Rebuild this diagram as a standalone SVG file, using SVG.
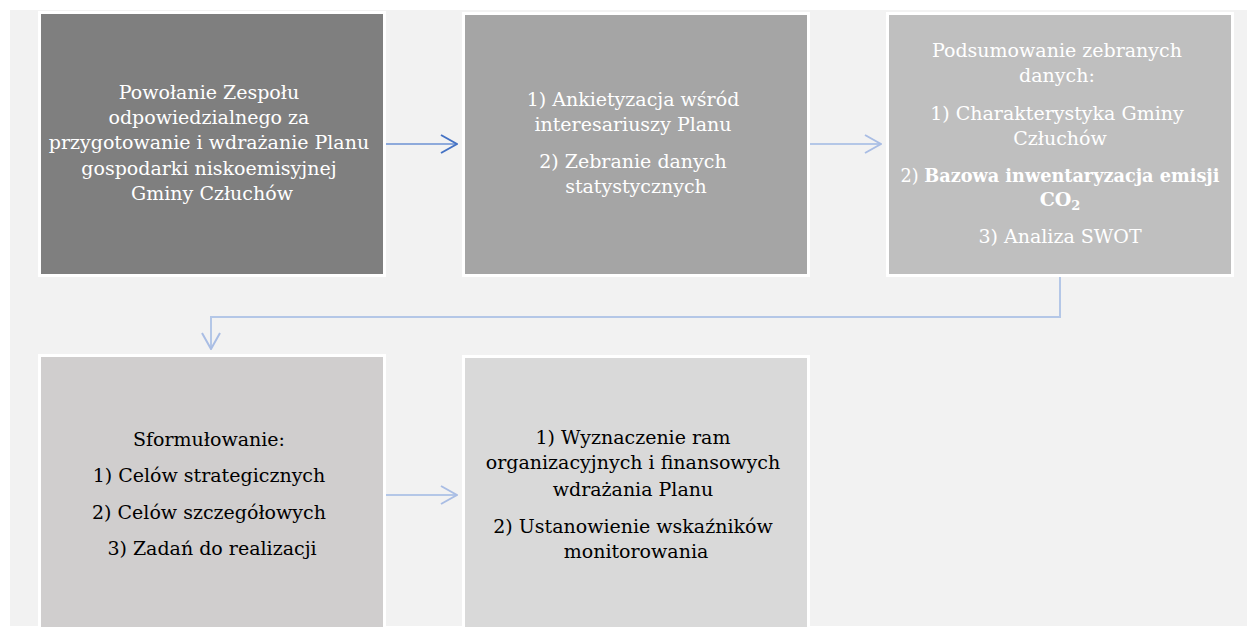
<svg xmlns="http://www.w3.org/2000/svg" width="1247" height="627" viewBox="0 0 1247 627">
<defs>
<style>
.box{stroke:#ffffff;stroke-width:3}
.t{font-family:"DejaVu Serif","Liberation Serif",serif;font-size:19px;text-anchor:middle}
.w{fill:#ffffff}
.k{fill:#000000}
.c{fill:none;stroke-width:2}
</style>
<marker id="ah1" viewBox="0 0 18 20" refX="17" refY="10" markerWidth="18" markerHeight="20" markerUnits="userSpaceOnUse" orient="auto">
<path d="M1,1 L17,10 L1,19" fill="none" stroke="#4472c4" stroke-width="2"/>
</marker>
<marker id="ah2" viewBox="0 0 18 20" refX="17" refY="10" markerWidth="18" markerHeight="20" markerUnits="userSpaceOnUse" orient="auto">
<path d="M1,1 L17,10 L1,19" fill="none" stroke="#a9bde4" stroke-width="2"/>
</marker>
</defs>
<rect x="0" y="0" width="1247" height="627" fill="#ffffff"/>
<rect x="10" y="10" width="1237" height="616" fill="#f2f2f2"/>

<g id="connectors">
<line class="c" x1="386" y1="144" x2="457" y2="144" stroke="#8eaadb" marker-end="url(#ah1)"/>
<line class="c" x1="810" y1="144" x2="881" y2="144" stroke="#b4c7e7" marker-end="url(#ah2)"/>
<path class="c" d="M1060,277 V317 H211 V349" stroke="#b4c7e7" marker-end="url(#ah2)"/>
<line class="c" x1="386" y1="495" x2="457" y2="495" stroke="#b4c7e7" marker-end="url(#ah2)"/>
</g>

<g id="node1">
<rect class="box" x="39.5" y="12.5" width="345" height="263" fill="#7f7f7f"/>
<text class="t w">
<tspan x="212" y="98.5">Powołanie Zespołu</tspan>
<tspan x="212" y="124">odpowiedzialnego za</tspan>
<tspan x="212" y="149">przygotowanie i wdrażanie Planu</tspan>
<tspan x="212" y="174.5">gospodarki niskoemisyjnej</tspan>
<tspan x="212" y="200">Gminy Człuchów</tspan>
</text>
</g>

<g id="node2">
<rect class="box" x="463.5" y="13.5" width="345" height="262" fill="#a5a5a5"/>
<text class="t w">
<tspan x="636" y="106">1) Ankietyzacja wśród</tspan>
<tspan x="636" y="131">interesariuszy Planu</tspan>
<tspan x="636" y="168">2) Zebranie danych</tspan>
<tspan x="636" y="193">statystycznych</tspan>
</text>
</g>

<g id="node3">
<rect class="box" x="887.5" y="13.5" width="345" height="262" fill="#bfbfbf"/>
<text class="t w">
<tspan x="1060" y="57">Podsumowanie zebranych</tspan>
<tspan x="1060" y="82">danych:</tspan>
<tspan x="1060" y="119.5">1) Charakterystyka Gminy</tspan>
<tspan x="1060" y="144.5">Człuchów</tspan>
</text>
<text class="t w" x="1060" y="181.5" textLength="319" lengthAdjust="spacingAndGlyphs">2) <tspan font-weight="bold">Bazowa inwentaryzacja emisji</tspan></text>
<text class="t w" x="1060" y="206" font-weight="bold">CO<tspan font-size="13" dy="4">2</tspan></text>
<text class="t w" x="1060" y="243">3) Analiza SWOT</text>
</g>

<g id="node4">
<rect class="box" x="39.5" y="355.5" width="345" height="290" fill="#d0cece"/>
<text class="t k">
<tspan x="212" y="446">Sformułowanie:</tspan>
<tspan x="212" y="482">1) Celów strategicznych</tspan>
<tspan x="212" y="518.5">2) Celów szczegółowych</tspan>
<tspan x="212" y="555">3) Zadań do realizacji</tspan>
</text>
</g>

<g id="node5">
<rect class="box" x="463.5" y="356.5" width="345" height="290" fill="#d9d9d9"/>
<text class="t k">
<tspan x="636" y="443.5">1) Wyznaczenie ram</tspan>
<tspan x="636" y="469">organizacyjnych i finansowych</tspan>
<tspan x="636" y="495.5">wdrażania Planu</tspan>
<tspan x="636" y="532.5">2) Ustanowienie wskaźników</tspan>
<tspan x="636" y="557.5">monitorowania</tspan>
</text>
</g>
</svg>
